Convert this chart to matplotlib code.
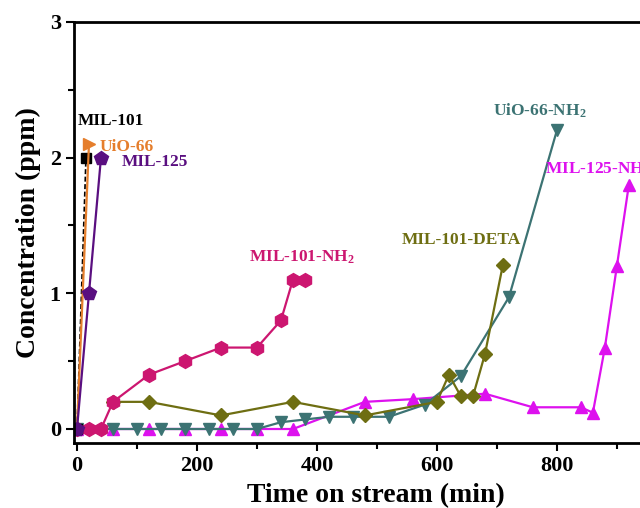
import matplotlib.pyplot as plt

plt.rcParams['font.family'] = ['Liberation Serif', 'DejaVu Serif']
plt.rcParams['font.weight'] = 'bold'
plt.rcParams['mathtext.fontset'] = 'custom'
plt.rcParams['mathtext.rm'] = 'Liberation Serif:bold'
plt.rcParams['mathtext.it'] = 'Liberation Serif:bold'
plt.rcParams['mathtext.bf'] = 'Liberation Serif:bold'

# MIL-125-NH2
t_m125n = [0, 60, 120, 180, 240, 300, 360, 480, 560, 680, 760, 840, 860, 880, 900, 920]
c_m125n = [0, 0, 0, 0, 0, 0, 0, 0.2, 0.22, 0.26, 0.16, 0.16, 0.12, 0.6, 1.2, 1.8]
# UiO-66-NH2
t_uion = [0, 60, 100, 140, 180, 220, 260, 300, 340, 380, 420, 460, 520, 580, 640, 720, 800]
c_uion = [0, 0, 0, 0, 0, 0, 0, 0, 0.05, 0.07, 0.09, 0.09, 0.09, 0.18, 0.39, 0.97, 2.2]
# MIL-101-DETA
t_deta = [60, 120, 240, 360, 480, 600, 620, 640, 660, 680, 710]
c_deta = [0.2, 0.2, 0.1, 0.2, 0.1, 0.2, 0.4, 0.24, 0.24, 0.55, 1.21]
# MIL-101-NH2
t_m101n = [0, 20, 40, 60, 120, 180, 240, 300, 340, 360, 380]
c_m101n = [0, 0, 0, 0.2, 0.4, 0.5, 0.6, 0.6, 0.8, 1.1, 1.1]
# MIL-101
t_m101 = [0, 15]
c_m101 = [0, 2.0]
# UiO-66
t_uio = [0, 20]
c_uio = [0, 2.1]
# MIL-125
t_m125 = [0, 20, 40]
c_m125 = [0, 1.0, 2.0]

fig = plt.figure(figsize=(6.4, 5.08), dpi=100)
ax = fig.add_axes([0.1156, 0.128, 0.942, 0.829])

ms = 8.5
lw = 1.6
ax.plot(t_m125n, c_m125n, '-^', color='#DD11EE', lw=lw, ms=ms)
ax.plot(t_uion, c_uion, '-v', color='#3C7373', lw=lw, ms=ms)
ax.plot(t_deta, c_deta, '-D', color='#6E6E12', lw=lw, ms=7.5)
ax.plot(t_m101n, c_m101n, '-h', color='#CC1670', lw=lw, ms=10)
ax.plot(t_m101, c_m101, 's', ls=(0, (3, 1.5)), color='black', lw=1.2, ms=7)
ax.plot(t_uio, c_uio, '->', color='#E57E2C', lw=lw, ms=ms)
ax.plot(t_m125, c_m125, '-p', color='#5A0F80', lw=lw, ms=10)

tk = dict(fontsize=12.5, fontweight='bold')
ax.text(2, 2.24, 'MIL-101', color='black', **tk)
ax.text(38, 2.05, 'UiO-66', color='#E57E2C', **tk)
ax.text(75, 1.94, 'MIL-125', color='#5A0F80', **tk)
ax.text(375, 1.23, 'MIL-101-NH$_2$', color='#CC1670', ha='center', **tk)
ax.text(640, 1.36, 'MIL-101-DETA', color='#6E6E12', ha='center', **tk)
ax.text(772, 2.31, 'UiO-66-NH$_2$', color='#3C7373', ha='center', **tk)
ax.text(780, 1.88, 'MIL-125-NH$_2$', color='#DD11EE', **tk)

ax.set_xlim(-5, 1000)
ax.set_ylim(-0.103, 3)
ax.set_xticks([0, 200, 400, 600, 800])
ax.set_xticks([100, 300, 500, 700, 900], minor=True)
ax.set_yticks([0, 1, 2, 3])
ax.set_yticks([0.5, 1.5, 2.5], minor=True)
ax.tick_params(which='major', direction='out', length=6, width=1.5, labelsize=16)
ax.tick_params(which='minor', direction='out', length=4, width=1.5)
for s in ax.spines.values():
    s.set_linewidth(2)

ax.set_xlabel('Time on stream (min)', fontsize=20, fontweight='bold', labelpad=5)
ax.set_ylabel('Concentration (ppm)', fontsize=20, fontweight='bold', labelpad=6)

fig.savefig('out.png', dpi=100)
